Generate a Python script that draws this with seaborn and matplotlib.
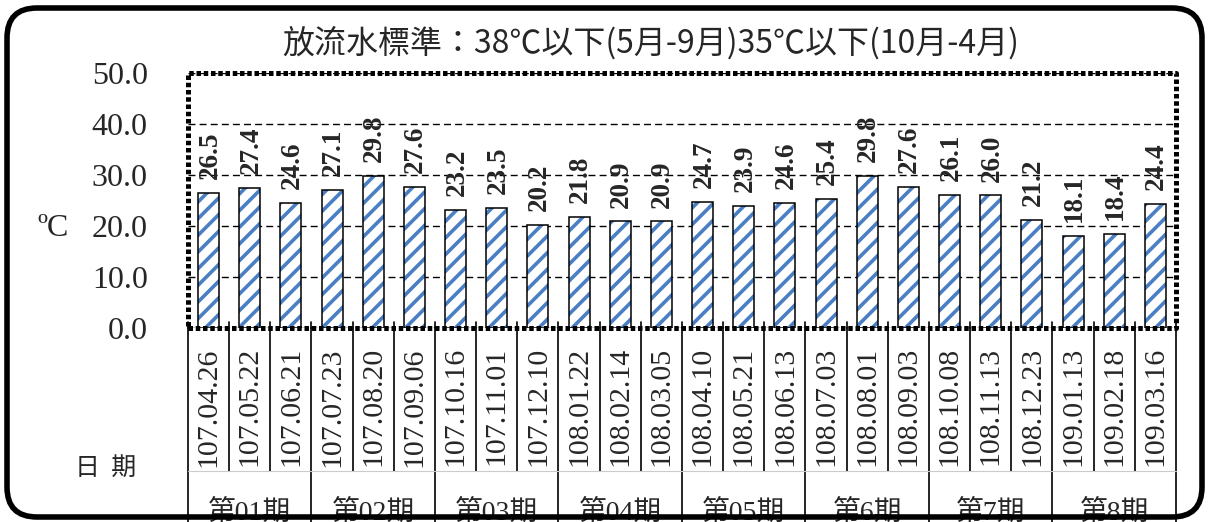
import numpy as np
import pandas as pd
import seaborn as sns
from matplotlib import pyplot as plt
from matplotlib.patches import Rectangle, FancyBboxPatch
from matplotlib.transforms import blended_transform_factory


# data
dates = ["107.04.26", "107.05.22", "107.06.21", "107.07.23", "107.08.20", "107.09.06",
         "107.10.16", "107.11.01", "107.12.10", "108.01.22", "108.02.14", "108.03.05",
         "108.04.10", "108.05.21", "108.06.13", "108.07.03", "108.08.01", "108.09.03",
         "108.10.08", "108.11.13", "108.12.23", "109.01.13", "109.02.18", "109.03.16"]
temps = [26.5, 27.4, 24.6, 27.1, 29.8, 27.6, 23.2, 23.5, 20.2, 21.8, 20.9, 20.9,
         24.7, 23.9, 24.6, 25.4, 29.8, 27.6, 26.1, 26.0, 21.2, 18.1, 18.4, 24.4]
periods = ["第01期", "第02期", "第03期", "第04期", "第05期", "第6期", "第7期", "第8期"]
per_period = 3
yticks = [0, 10, 20, 30, 40, 50]

title = "放流水標準：38℃以下(5月-9月)35℃以下(10月-4月)"

df = pd.DataFrame({"date": dates, "temp": temps})

sns.set_style("white")
plt.rcParams["font.family"] = ["Liberation Serif", "Noto Sans CJK TC"]
plt.rcParams["hatch.linewidth"] = 2.6

fig = plt.figure(figsize=(12.09, 5.22), dpi=100)
ax = fig.add_axes([0.1555, 0.3716, 0.8172, 0.4884])

# hatched bars
sns.barplot(data=df, x="date", y="temp", ax=ax, color="white", width=0.51,
            edgecolor="#4A7FC4", linewidth=0, hatch="//", zorder=3)
for p in list(ax.patches):
    ax.add_patch(Rectangle(p.get_xy(), p.get_width(), p.get_height(),
                           fill=False, ec="black", lw=1.1, zorder=4))

# value labels
for i, v in enumerate(temps):
    ax.annotate(f"{v:.1f}", (i, v), xytext=(1, 10), textcoords="offset points",
                rotation=90, ha="center", va="bottom", fontsize=19.5,
                fontweight="bold", family="Liberation Serif", zorder=5)

ax.set_ylim(0, 50)
ax.set_xlim(-0.5, len(dates) - 0.5)
ax.set_yticks(yticks)
ax.set_yticklabels([f"{t:.1f}" for t in yticks], fontsize=23)
ax.tick_params(axis="y", length=0, pad=29)
ax.set_xticks([])
ax.set_xlabel("")
ax.set_ylabel("")
ax.yaxis.grid(True, linestyle=(0, (5, 3)), color="black", lw=1)
ax.set_axisbelow(True)

# dotted frame
for s in ax.spines.values():
    s.set_visible(False)
ax.plot([0, 1, 1, 0, 0], [0, 0, 1, 1, 0], transform=ax.transAxes, color="black",
        lw=3.6, linestyle=(0, (0.9, 0.55)), dash_capstyle="butt",
        clip_on=False, zorder=6)

# category table below the axis
tr = blended_transform_factory(ax.transData, ax.transAxes)
n = len(dates)
for k in range(n + 1):
    xb = k - 0.5
    bottom = -0.76 if k % per_period == 0 else -0.56
    ax.plot([xb, xb], [0, bottom], transform=tr, color="black", lw=1.2,
            clip_on=False, zorder=2)
    ax.plot([xb, xb], [0, 0.025], transform=tr, color="black", lw=1.2,
            clip_on=False, zorder=2)
ax.plot([-0.5, n - 0.5], [-0.56, -0.56], transform=tr, color="#cccccc", lw=0.8,
        clip_on=False)
for i, d in enumerate(dates):
    ax.text(i, -0.075, d, transform=tr, rotation=90, ha="center", va="top",
            fontsize=21.5, family="Liberation Serif")
for g, name in enumerate(periods):
    xc = g * per_period + (per_period - 1) / 2
    ax.text(xc, -0.725, name, transform=tr, ha="center", va="center",
            fontsize=20, family=["Liberation Serif", "Noto Sans CJK TC"])

# other texts
fig.text(0.538, 0.918, title, ha="center", va="center", fontsize=23,
         family=["Noto Sans CJK TC", "DejaVu Sans"])
fig.text(0.044, 0.563, "ºC", ha="center", va="center", fontsize=23,
         family="Liberation Serif")
fig.text(0.087, 0.103, "日  期", ha="center", va="center", fontsize=18,
         family=["Noto Sans CJK TC", "DejaVu Sans"])

# rounded outer border
border = FancyBboxPatch((0.07, 0.05), 11.95, 5.09,
                        boxstyle="round,pad=0,rounding_size=0.3",
                        transform=fig.dpi_scale_trans, fill=False,
                        ec="black", lw=4, zorder=10)
fig.patches.append(border)

plt.savefig("out.png", dpi=100)
